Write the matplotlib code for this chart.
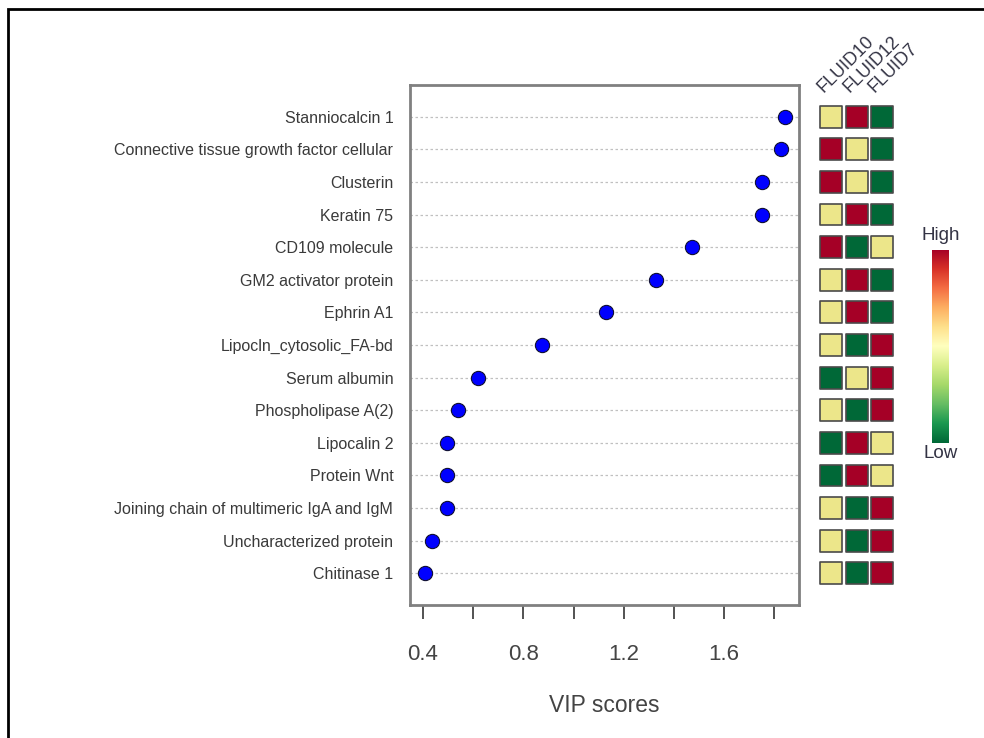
import matplotlib
matplotlib.use("Agg")
import matplotlib.pyplot as plt
import numpy as np
from matplotlib.colors import ListedColormap
from matplotlib.patches import Rectangle

plt.rcParams['font.family'] = ['Liberation Sans', 'DejaVu Sans']

proteins = ["Stanniocalcin 1", "Connective tissue growth factor cellular", "Clusterin",
            "Keratin 75", "CD109 molecule", "GM2 activator protein", "Ephrin A1",
            "Lipocln_cytosolic_FA-bd", "Serum albumin", "Phospholipase A(2)",
            "Lipocalin 2", "Protein Wnt", "Joining chain of multimeric IgA and IgM",
            "Uncharacterized protein", "Chitinase 1"]
vip = [1.842, 1.826, 1.751, 1.750, 1.472, 1.328, 1.129, 0.874, 0.619, 0.539,
       0.496, 0.496, 0.496, 0.436, 0.408]
groups = ["FLUID10", "FLUID12", "FLUID7"]
# relative level: 1 = high, 0 = mid, -1 = low
fluid10 = [0, 1, 1, 0, 1, 0, 0, 0, -1, 0, -1, -1, 0, 0, 0]
fluid12 = [1, 0, 0, 1, -1, 1, 1, -1, 0, -1, 1, 1, -1, -1, -1]
fluid7 = [-1, -1, -1, -1, 0, -1, -1, 1, 1, 1, 0, 0, 1, 1, 1]
xticks = [0.4, 0.6, 0.8, 1.0, 1.2, 1.4, 1.6, 1.8]
xticklabels = ["0.4", "", "0.8", "", "1.2", "", "1.6", ""]

W, H = 984, 738
fig = plt.figure(figsize=(W / 100, H / 100), dpi=100)

def fx(px):
    return px / W

def fy(py):
    return 1 - py / H

n = len(proteins)
ypos = np.arange(n)
ylim = (n - 1 + 0.97, -0.97)

# main dot plot
ax = fig.add_axes([fx(410), fy(605), fx(799) - fx(410), fy(85) - fy(605)])
for yi in ypos:
    ax.axhline(yi, color='#c0c0c0', lw=0.9, ls=(0, (2, 2)), zorder=1)
ax.scatter(vip, ypos, s=105, color='#0000ff', edgecolor='#111133', linewidth=0.8, zorder=3)
ax.set_xlim(0.348, 1.898)
ax.set_ylim(*ylim)
ax.set_yticks(ypos)
ax.set_yticklabels(proteins, fontsize=11.5, color='#3a3a3a')
ax.tick_params(axis='y', length=0, pad=12)
ax.set_xticks(xticks)
ax.set_xticklabels(xticklabels, fontsize=16, color='#444444')
ax.tick_params(axis='x', length=10, width=1.3, color='#444444', pad=18, direction='out')
for s in ax.spines.values():
    s.set_color('#808080')
    s.set_linewidth(2)
ax.set_xlabel("VIP scores", fontsize=16.5, color='#444444')
ax.xaxis.set_label_coords(0.5, -(706 - 605) / 520)
ax.xaxis.label.set_va('center')

# heatmap
hax = fig.add_axes([fx(818.5), fy(605), fx(895) - fx(818.5), fy(85) - fy(605)])
cmap3 = ListedColormap(['#006837', '#ece68a', '#a50026'])
levels = [fluid10, fluid12, fluid7]
for j, col in enumerate(levels):
    hax.scatter(np.full(n, j), ypos, c=col, cmap=cmap3, vmin=-1.5, vmax=1.5,
                marker='s', s=250, edgecolor='#4a4a4a', linewidth=1.2, zorder=2)
hax.set_xlim(-0.5, 2.5)
hax.set_ylim(*ylim)
hax.axis('off')
for j, g in enumerate(groups):
    hax.text(j - 0.3, -0.72, g, rotation=45, rotation_mode='anchor', ha='left', va='baseline',
             fontsize=13, color='#333344', clip_on=False)

# colour bar
cax = fig.add_axes([fx(932), fy(443), fx(949) - fx(932), fy(250) - fy(443)])
grad = np.linspace(0, 1, 256).reshape(-1, 1)
cax.imshow(grad, aspect='auto', cmap='RdYlGn', extent=[0, 1, 0, 1])
cax.axis('off')
fig.text(fx(940.5), fy(236), "High", ha='center', va='center', fontsize=13.5, color='#333344')
fig.text(fx(940.5), fy(454), "Low", ha='center', va='center', fontsize=13.5, color='#333344')

# outer frame
fig.patches.append(Rectangle((fx(8), -0.1), 1.2, fy(9) + 0.1, transform=fig.transFigure,
                             fill=False, edgecolor='black', linewidth=2, clip_on=True))

fig.savefig("out.png", dpi=100, facecolor='white')
